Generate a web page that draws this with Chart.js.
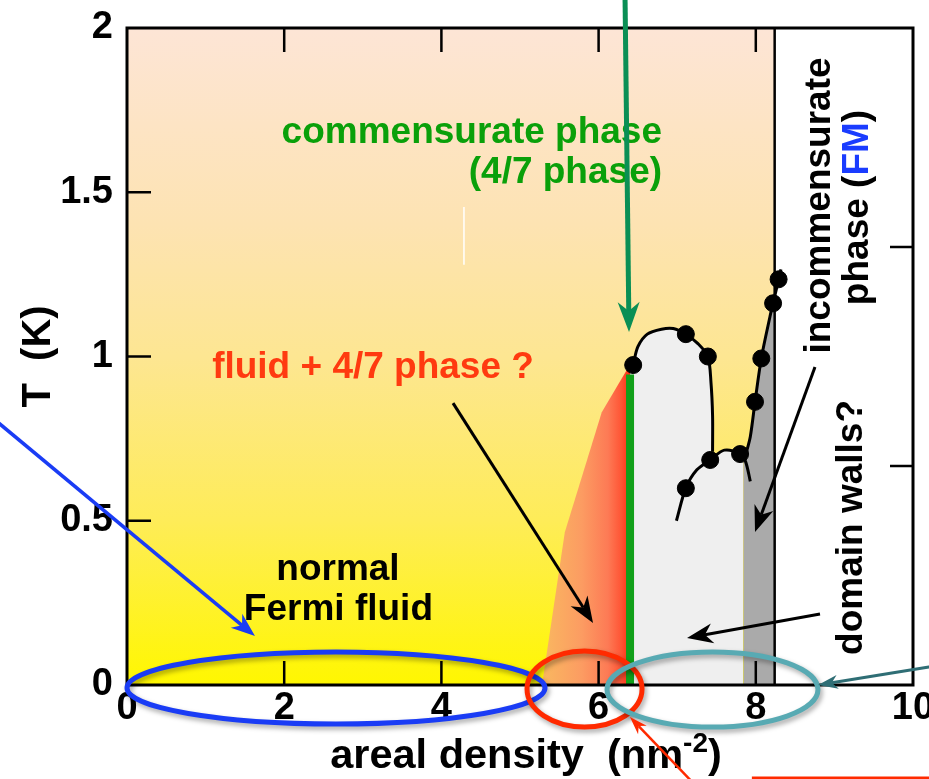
<!DOCTYPE html>
<html><head><meta charset="utf-8">
<script src="https://cdn.jsdelivr.net/npm/chart.js@4.4.1/dist/chart.umd.min.js"></script>
<style>html,body{margin:0;padding:0;background:#fff;overflow:hidden;width:929px;height:779px}canvas{display:block}</style>
</head><body>
<canvas id="c" width="960" height="779"></canvas>
<script>
const FONT = '"Liberation Sans", Arial, Helvetica, sans-serif';

// ---- axes ----
const xTickValues = [0, 2, 4, 6, 8, 10];
const yTickValues = [0, 0.5, 1, 1.5, 2];
const rightTickValues = [1, 2];           // right-hand axis runs 0..3

// ---- measured transition points (density nm^-2, T K) ----
const measuredDensity = [6.44, 7.11, 7.39, 7.11, 7.42, 7.80, 7.99, 8.07, 8.22, 8.29];
const measuredT       = [0.974, 1.068, 1.00, 0.599, 0.685, 0.703, 0.862, 0.994, 1.162, 1.235];

// ---- phase boundary lines ----
const upperDomeDensity = [6.44, 6.50, 6.62, 6.80, 6.95, 7.11, 7.26, 7.39, 7.43, 7.45, 7.45];
const upperDomeT       = [0.975, 1.03, 1.068, 1.083, 1.085, 1.068, 1.04, 1.00, 0.92, 0.82, 0.71];
const lowerDomeDensity = [6.99, 7.11, 7.25, 7.42, 7.60, 7.80, 7.87, 7.93];
const lowerDomeT       = [0.50, 0.60, 0.655, 0.685, 0.715, 0.703, 0.68, 0.62];
const risingDensity    = [7.87, 7.93, 7.99, 8.07, 8.18, 8.22, 8.32];
const risingT          = [0.70, 0.756, 0.862, 0.994, 1.121, 1.162, 1.265];

// ---- phase regions ----
const fluidDensity = [0, 8.24];
const fluidT       = [2, 2];
const coexistDensity = [5.28, 5.57, 6.04, 6.36, 6.40];
const coexistT       = [0, 0.465, 0.83, 0.96, 0.96];
const commensurateDensity = [6.40, 6.40];
const commensurateT       = [0, 0.945];
const grayDensity = [6.40, 6.44, 6.50, 6.62, 6.80, 6.95, 7.11, 7.26, 7.39, 7.43, 7.45, 7.45, 7.60, 7.80, 7.84];
const grayT       = [0.96, 0.975, 1.03, 1.068, 1.083, 1.085, 1.068, 1.04, 1.00, 0.92, 0.82, 0.70, 0.715, 0.703, 0.70];
const wallDensity = [7.84, 7.88, 7.93, 7.99, 8.07, 8.18, 8.22, 8.24];
const wallT       = [0.70, 0.705, 0.756, 0.862, 0.994, 1.121, 1.162, 1.185];
const incommBoundaryDensity = [8.24, 8.24];
const incommBoundaryT       = [0, 2];

const pts = (xs, ys) => xs.map((x, i) => ({x: x, y: ys[i]}));

function fluidGradient(c) {
  const ch = c.chart, a = ch.chartArea;
  if (!a) return '#fde9a0';
  const g = ch.ctx.createLinearGradient(0, a.top, 0, a.bottom);
  g.addColorStop(0, '#fde5d6');
  g.addColorStop(0.3, '#fde3b2');
  g.addColorStop(0.5, '#fde692');
  g.addColorStop(0.75, '#feec58');
  g.addColorStop(1, '#fff700');
  return g;
}
function coexistGradient(c) {
  const ch = c.chart, a = ch.chartArea;
  if (!a) return '#fd8f5c';
  const x0 = ch.scales.x.getPixelForValue(coexistDensity[0]);
  const x1 = ch.scales.x.getPixelForValue(coexistDensity[coexistDensity.length - 1]);
  const g = ch.ctx.createLinearGradient(x0, 0, x1, 0);
  g.addColorStop(0, '#f9b860');
  g.addColorStop(0.45, '#fc9c62');
  g.addColorStop(0.75, '#fd7a55');
  g.addColorStop(0.9, '#ff5535');
  g.addColorStop(1, '#ff2e10');
  return g;
}

function arrow(ctx, x1, y1, x2, y2, color, lw, hl, hw) {
  const a = Math.atan2(y2 - y1, x2 - x1);
  const bx = x2 - Math.cos(a) * hl * 0.7, by = y2 - Math.sin(a) * hl * 0.7;
  ctx.save();
  ctx.strokeStyle = color; ctx.lineWidth = lw; ctx.lineCap = 'butt';
  ctx.beginPath(); ctx.moveTo(x1, y1); ctx.lineTo(bx, by); ctx.stroke();
  ctx.translate(x2, y2); ctx.rotate(a);
  ctx.beginPath(); ctx.moveTo(0, 0); ctx.lineTo(-hl, -hw / 2); ctx.lineTo(-hl * 0.7, 0); ctx.lineTo(-hl, hw / 2); ctx.closePath();
  ctx.fillStyle = color; ctx.fill();
  ctx.restore();
}

const annotationPlugin = {
  id: 'annotations',
  beforeDraw(chart) {
    const ctx = chart.ctx;
    ctx.save(); ctx.fillStyle = '#fff'; ctx.fillRect(0, 0, chart.width, chart.height); ctx.restore();
  },
  afterDraw(chart) {
    const ctx = chart.ctx, a = chart.chartArea;
    const xs = chart.scales.x, ys = chart.scales.y, y2 = chart.scales.y2;
    const X = v => xs.getPixelForValue(v), Y = v => ys.getPixelForValue(v);
    ctx.save();
    // frame
    ctx.strokeStyle = '#000'; ctx.lineWidth = 3;
    ctx.strokeRect(a.left, a.top, a.right - a.left, a.bottom - a.top);
    // inward tick marks
    ctx.lineWidth = 2.5;
    ctx.beginPath();
    xs.ticks.forEach(t => {
      if (t.value <= xs.min || t.value >= xs.max) return;
      const px = X(t.value);
      ctx.moveTo(px, a.bottom); ctx.lineTo(px, a.bottom - 24);
      ctx.moveTo(px, a.top); ctx.lineTo(px, a.top + 24);
    });
    ys.ticks.forEach(t => {
      if (t.value <= ys.min || t.value >= ys.max) return;
      const py = Y(t.value);
      ctx.moveTo(a.left, py); ctx.lineTo(a.left + 24, py);
    });
    rightTickValues.forEach(v => {
      const py = y2.getPixelForValue(v);
      ctx.moveTo(a.right, py); ctx.lineTo(a.right - 23, py);
    });
    ctx.stroke();

    // small white mark
    ctx.strokeStyle = '#ffffff'; ctx.lineWidth = 1.5;
    ctx.beginPath(); ctx.moveTo(X(4.287), Y(1.455)); ctx.lineTo(X(4.287), Y(1.279)); ctx.stroke();

    // texts
    const bold = s => 'bold ' + s + 'px ' + FONT;
    ctx.textBaseline = 'alphabetic';
    ctx.font = bold(37);
    ctx.fillStyle = '#0aa00a'; ctx.textAlign = 'right';
    ctx.fillText('commensurate phase', X(6.807), Y(1.650));
    ctx.fillText('(4/7 phase)', X(6.807), Y(1.528));
    ctx.fillStyle = '#ff3a10'; ctx.textAlign = 'center';
    ctx.fillText('fluid + 4/7 phase ?', X(3.13), Y(0.9346));
    ctx.fillStyle = '#000';
    ctx.fillText('normal', X(2.684), Y(0.3196));
    ctx.fillText('Fermi fluid', X(2.69), Y(0.1979));

    // rotated texts
    const rot = (x, y, parts) => {
      ctx.save(); ctx.translate(x, y); ctx.rotate(-Math.PI / 2);
      ctx.textAlign = 'left';
      const total = parts.reduce((s, p) => s + ctx.measureText(p[0]).width, 0);
      let cx = -total / 2;
      parts.forEach(p => { ctx.fillStyle = p[1]; ctx.fillText(p[0], cx, 0); cx += ctx.measureText(p[0]).width; });
      ctx.restore();
    };
    ctx.font = bold(37);
    rot(X(8.944), Y(1.4597), [['incommensurate', '#000']]);
    rot(X(9.427), Y(1.4536), [['phase (', '#000'], ['FM', '#1a3cff'], [')', '#000']]);
    rot(X(9.351), Y(0.4795), [['domain walls?', '#000']]);

    // axis titles
    ctx.font = bold(40);
    rot(a.left - 77, (a.top + a.bottom) / 2, [['T  (K)', '#000']]);
    {
      const f1 = bold(41.5), f2 = bold(28);
      ctx.font = f1; const w1 = ctx.measureText('areal density  (nm').width, w3 = ctx.measureText(')').width;
      ctx.font = f2; const w2 = ctx.measureText('-2').width;
      let sx = (a.left + a.right) / 2 + 6 - (w1 + w2 + w3) / 2;
      const by = a.bottom + 83;
      ctx.textAlign = 'left'; ctx.fillStyle = '#000';
      ctx.font = f1; ctx.fillText('areal density  (nm', sx, by); sx += w1;
      ctx.font = f2; ctx.fillText('-2', sx, by - 16); sx += w2;
      ctx.font = f1; ctx.fillText(')', sx, by);
    }

    // arrows
    arrow(ctx, X(6.336), Y(2.10), X(6.387), Y(1.0746), '#0a8f55', 5, 30, 22);
    arrow(ctx, X(4.148), Y(0.858), X(5.929), Y(0.189), '#000', 3, 26, 20);
    arrow(ctx, X(8.817), Y(0.216), X(7.125), Y(0.143), '#000', 3, 26, 20);
    arrow(ctx, X(8.753), Y(0.968), X(7.990), Y(0.466), '#000', 3, 26, 20);
    arrow(ctx, X(-1.679), Y(0.8067), X(1.628), Y(0.149), '#1a3cf5', 3.5, 24, 18);

    // ellipses
    const ell = (cx, cy, rx, ry, color) => {
      ctx.save();
      ctx.shadowColor = 'rgba(0,0,0,0.35)'; ctx.shadowBlur = 5; ctx.shadowOffsetX = 2; ctx.shadowOffsetY = 3;
      ctx.strokeStyle = color; ctx.lineWidth = 5;
      ctx.beginPath();
      ctx.ellipse(X(cx), Y(cy), Math.abs(X(cx + rx) - X(cx)), Math.abs(Y(cy + ry) - Y(cy)), 0, 0, Math.PI * 2);
      ctx.stroke(); ctx.restore();
    };
    ell(2.659, -0.0091, 2.659, 0.1096, '#1a3cf5');
    ell(5.821, -0.0122, 0.7316, 0.1157, '#ff2a00');
    ell(7.449, -0.0137, 1.342, 0.1142, '#58aab3');

    arrow(ctx, X(7.29), Y(-0.32), X(6.399), Y(-0.0974), '#ff2a00', 2.5, 18, 12);
    arrow(ctx, X(10.28), Y(0.0578), X(8.791), Y(0.0), '#2f6e75', 3, 20, 14);
    ctx.strokeStyle = '#ff2a00'; ctx.lineWidth = 3;
    ctx.beginPath(); ctx.moveTo(X(7.95), Y(-0.283)); ctx.lineTo(X(10.3), Y(-0.283)); ctx.stroke();
    ctx.restore();
  }
};

const tickFont = {family: FONT, size: 38, weight: 'bold'};
const zeroPad = s => { s.paddingTop = 0; s.paddingBottom = 0; s.paddingLeft = 0; s.paddingRight = 0; };

new Chart(document.getElementById('c'), {
  type: 'scatter',
  data: {
    datasets: [
      {label: 'measured', data: pts(measuredDensity, measuredT), pointRadius: 8.5, pointBackgroundColor: '#000', pointBorderColor: '#000', showLine: false, order: 0},
      {label: 'upper dome', data: pts(upperDomeDensity, upperDomeT), showLine: true, borderColor: '#000', borderWidth: 3, pointRadius: 0, tension: 0.3, order: 1},
      {label: 'lower dome', data: pts(lowerDomeDensity, lowerDomeT), showLine: true, borderColor: '#000', borderWidth: 3, pointRadius: 0, tension: 0.3, order: 1},
      {label: 'rising', data: pts(risingDensity, risingT), showLine: true, borderColor: '#000', borderWidth: 3, pointRadius: 0, tension: 0.3, order: 1},
      {label: '4/7 phase', data: pts(commensurateDensity, commensurateT), showLine: true, borderColor: '#11a01a', borderWidth: 8, pointRadius: 0, order: 2},
      {label: 'incommensurate boundary', data: pts(incommBoundaryDensity, incommBoundaryT), showLine: true, borderColor: '#000', borderWidth: 2.5, pointRadius: 0, order: 3},
      {label: 'domain walls', data: pts(wallDensity, wallT), showLine: true, borderWidth: 0, borderColor: 'rgba(0,0,0,0)', backgroundColor: '#aaaaaa', fill: 'origin', pointRadius: 0, tension: 0.3, order: 4},
      {label: 'commensurate region', data: pts(grayDensity, grayT), showLine: true, borderWidth: 0, borderColor: 'rgba(0,0,0,0)', backgroundColor: '#efefef', fill: 'origin', pointRadius: 0, tension: 0.3, order: 5},
      {label: 'fluid + 4/7', data: pts(coexistDensity, coexistT), showLine: true, borderWidth: 0, borderColor: 'rgba(0,0,0,0)', backgroundColor: coexistGradient, fill: 'origin', pointRadius: 0, order: 6},
      {label: 'normal Fermi fluid', data: pts(fluidDensity, fluidT), showLine: true, borderWidth: 0, borderColor: 'rgba(0,0,0,0)', backgroundColor: fluidGradient, fill: 'origin', pointRadius: 0, order: 7}
    ]
  },
  options: {
    responsive: false, devicePixelRatio: 1, animation: false,
    layout: {padding: {top: 28, right: 47, left: 0, bottom: 0}},
    plugins: {legend: {display: false}, tooltip: {enabled: false}},
    events: [],
    scales: {
      x: {
        type: 'linear', min: xTickValues[0], max: xTickValues[xTickValues.length - 1],
        afterBuildTicks: s => { s.ticks = xTickValues.map(v => ({value: v})); },
        ticks: {font: tickFont, color: '#000', padding: 1, maxRotation: 0, autoSkip: false, callback: v => String(v)},
        grid: {display: false, drawTicks: false}, border: {display: false},
        afterFit: s => { s.height = 94; zeroPad(s); }
      },
      y: {
        type: 'linear', min: yTickValues[0], max: yTickValues[yTickValues.length - 1],
        afterBuildTicks: s => { s.ticks = yTickValues.map(v => ({value: v})); },
        ticks: {font: tickFont, color: '#000', padding: 14, autoSkip: false, callback: v => String(v)},
        grid: {display: false, drawTicks: false}, border: {display: false},
        afterFit: s => { s.width = 127; zeroPad(s); }
      },
      y2: {type: 'linear', position: 'right', display: false, min: 0, max: 3}
    }
  },
  plugins: [annotationPlugin]
});
</script>
</body></html>
